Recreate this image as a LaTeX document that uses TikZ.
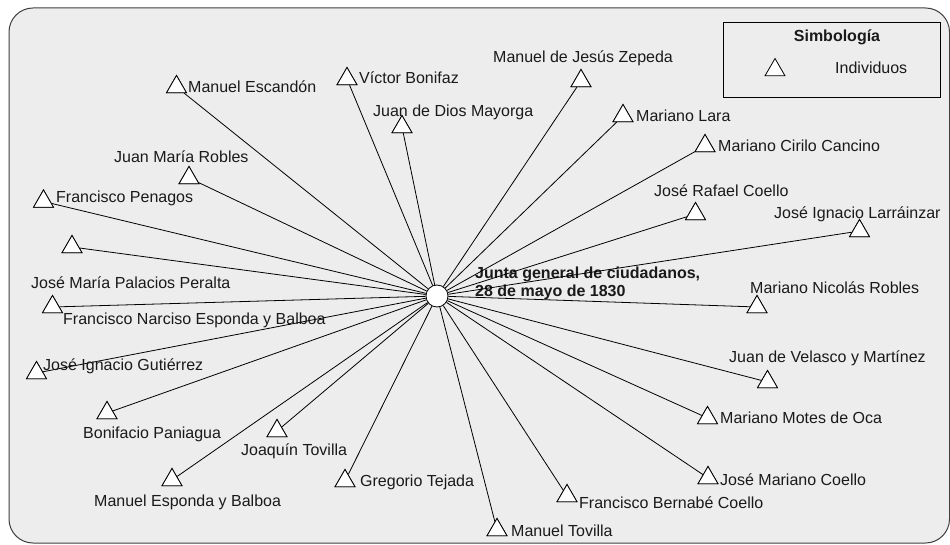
\documentclass[tikz,border=0pt]{standalone}
\usepackage{fontspec}
\setmainfont{Liberation Sans}
\usetikzlibrary{shapes.geometric}
\definecolor{bgfill}{HTML}{EDEDED}
\definecolor{framecol}{HTML}{404040}
\definecolor{txt}{HTML}{1A1A1A}
\begin{document}
\begin{tikzpicture}[x=1pt,y=-1pt,
  ind/.style={regular polygon, regular polygon sides=3, draw=black, fill=white,
    inner sep=0pt, minimum size=23pt, line width=0.8pt},
  hub/.style={circle, draw=black, fill=white, inner sep=0pt, minimum size=22pt, line width=0.8pt},
  lab/.style={anchor=base west, inner sep=0pt, text=txt, font=\fontsize{16}{19}\selectfont},
  conn/.style={draw=black, line width=0.8pt}
]
\useasboundingbox (0,0) rectangle (950,545);
\fill[white] (0,0) rectangle (950,545);
\draw[rounded corners=24pt, fill=bgfill, draw=framecol, line width=1pt] (9,8) rectangle (949.5,543);

% legend
\node[draw=black, line width=0.8pt, fill=bgfill, minimum width=217pt, minimum height=75pt, inner sep=0pt] (legend) at (831.5,59.5) {};
\node[anchor=base, inner sep=0pt, text=txt, font=\fontsize{16}{19}\selectfont\bfseries] (legtitle) at (837,42) {Simbología};
\node[ind] (legtri) at (775,70) {};
\node[lab] (legtxt) at (835,74) {Individuos};

% hub
\node[hub] (c) at (437,296) {};
\node[anchor=base west, inner sep=0pt, align=left, text=txt, font=\fontsize{16}{18}\selectfont\bfseries] (clab) at (475,297) {Junta general de ciudadanos,\\28 de mayo de 1830};

% individuals
\node[ind] (t1) at (176.5,87) {};
\node[ind] (t2) at (347,79) {};
\node[ind] (t3) at (402,127) {};
\node[ind] (t4) at (581,81) {};
\node[ind] (t5) at (623,116) {};
\node[ind] (t6) at (705,146) {};
\node[ind] (t7) at (695.5,214) {};
\node[ind] (t8) at (859.5,231) {};
\node[ind] (t9) at (757,307) {};
\node[ind] (t10) at (767.5,382) {};
\node[ind] (t11) at (707.5,418) {};
\node[ind] (t12) at (708,478) {};
\node[ind] (t13) at (567,496) {};
\node[ind] (t14) at (497,530) {};
\node[ind] (t15) at (345,481) {};
\node[ind] (t16) at (277,431) {};
\node[ind] (t17) at (172,480) {};
\node[ind] (t18) at (107,413) {};
\node[ind] (t19) at (36.5,373) {};
\node[ind] (t20) at (52.5,307) {};
\node[ind] (t21) at (72,247) {};
\node[ind] (t22) at (43.5,201.5) {};
\node[ind] (t23) at (189,178) {};

% connectors
\foreach \n in {1,...,23} \draw[conn] (c) -- (t\n);

% redraw triangles on top
\foreach \n in {1,...,23} \path (t\n.center) node[ind] {};

% labels
\node[lab] (l1) at (188,93) {Manuel Escandón};
\node[lab] (l2) at (359,83.5) {Víctor Bonifaz};
\node[lab] (l3) at (373,117) {Juan de Dios Mayorga};
\node[lab] (l4) at (493,63) {Manuel de Jesús Zepeda};
\node[lab] (l5) at (636,122) {Mariano Lara};
\node[lab] (l6) at (718,151.5) {Mariano Cirilo Cancino};
\node[lab] (l7) at (654,197) {José Rafael Coello};
\node[lab] (l8) at (774,219) {José Ignacio Larráinzar};
\node[lab] (l9) at (750,294) {Mariano Nicolás Robles};
\node[lab] (l10) at (729,362) {Juan de Velasco y Martínez};
\node[lab] (l11) at (720,423) {Mariano Motes de Oca};
\node[lab] (l12) at (720,485) {José Mariano Coello};
\node[lab] (l13) at (579,508) {Francisco Bernabé Coello};
\node[lab] (l14) at (511,536) {Manuel Tovilla};
\node[lab] (l15) at (360,486) {Gregorio Tejada};
\node[lab] (l16) at (241,455) {Joaquín Tovilla};
\node[lab] (l17) at (94,506) {Manuel Esponda y Balboa};
\node[lab] (l18) at (83,438) {Bonifacio Paniagua};
\node[lab] (l19) at (43,370) {José Ignacio Gutiérrez};
\node[lab] (l20) at (31,288) {José María Palacios Peralta};
\node[lab] (l20b) at (63,324) {Francisco Narciso Esponda y Balboa};
\node[lab] (l22) at (56,203) {Francisco Penagos};
\node[lab] (l23) at (114,163) {Juan María Robles};
\end{tikzpicture}
\end{document}
